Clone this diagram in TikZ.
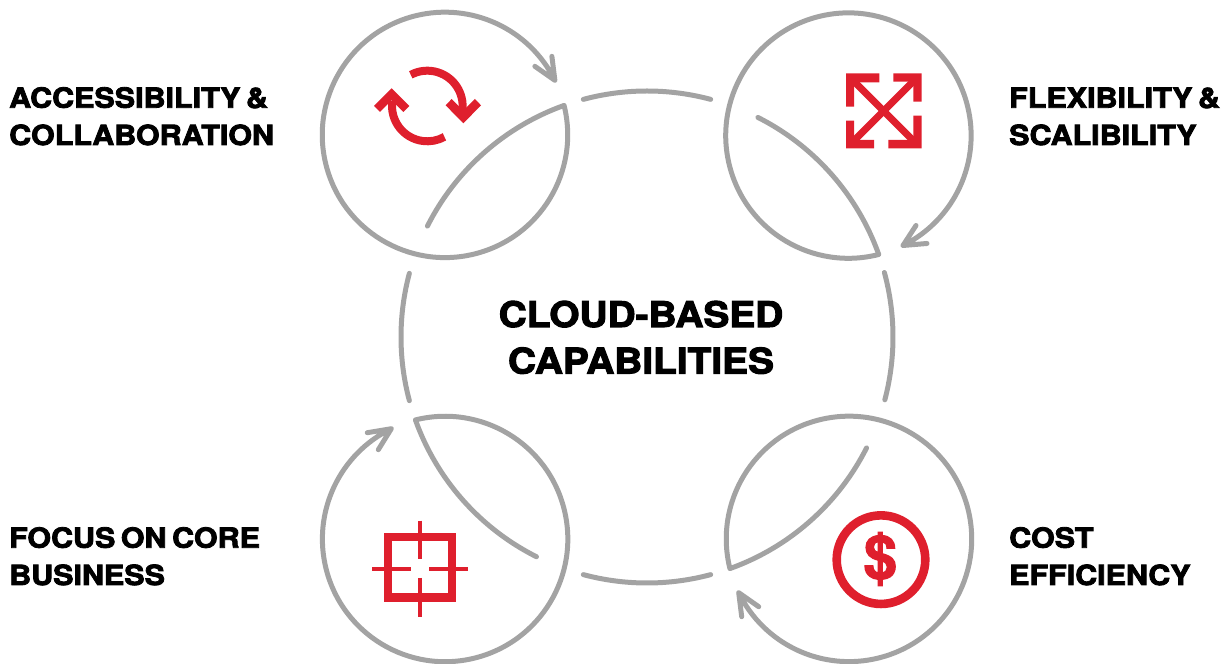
\documentclass[tikz,border=0pt]{standalone}
\usepackage{fontspec}
\setmainfont{TeX Gyre Heros}[UprightFont=*-Bold,FakeBold=3,FakeStretch=1.1,WordSpace=0.65]
\newfontfamily\dollarfont{TeX Gyre Heros}[UprightFont=*-Bold,FakeBold=2]
\definecolor{ringgray}{HTML}{A3A3A3}
\definecolor{iconred}{HTML}{DF1F2D}
\tikzset{
  ring/.style={draw=ringgray,line width=5pt,line cap=round,line join=round},
  labeltext/.style={inner sep=0pt,anchor=base west,align=left,font=\fontsize{27.7}{37}\selectfont},
  titletext/.style={inner sep=0pt,anchor=base,align=center,font=\fontsize{35.3}{46}\selectfont},
  zoomed/.style={x=0.33333pt,y=-0.33333pt},
}
\begin{document}
\begin{tikzpicture}[x=1pt,y=1pt]
\useasboundingbox (0,0) rectangle (1232,664);
\coordinate (big) at (647,327);
% big circle pieces
\draw[ring] (big) ++(105:246pt) arc[start angle=105,end angle=75,radius=246pt];
\draw[ring] (big) ++(15.2:246pt) arc[start angle=15.2,end angle=-14.8,radius=246pt];
\draw[ring] (big) ++(-75:246pt) arc[start angle=-75,end angle=-105,radius=246pt];
\draw[ring] (big) ++(-165:246pt) arc[start angle=-165,end angle=-195,radius=246pt];
% TL ring
\draw[ring] (big) ++(153.2:246pt) arc[start angle=153.2,end angle=109.7,radius=246pt]
  arc[start angle=13.9,end angle=-333.6,radius=122.7pt]
  ++(-20,14) -- ++(20,-14) -- ++(-3,24);
% TR ring
\draw[ring] (big) ++(63.2:246pt) arc[start angle=63.2,end angle=19.6,radius=246pt]
  arc[start angle=-75.7,end angle=-423.6,radius=122.7pt]
  ++(13,20) -- ++(-13,-20) -- ++(24,2);
% BR ring
\draw[ring] (big) ++(-26.8:246pt) arc[start angle=-26.8,end angle=-70.3,radius=246pt]
  arc[start angle=194,end angle=-154,radius=122.7pt]
  ++(20,-14) -- ++(-20,14) -- ++(3,-24);
% BL ring
\draw[ring] (big) ++(-116.7:246pt) arc[start angle=-116.7,end angle=-160.3,radius=246pt]
  arc[start angle=104,end angle=-244,radius=122.7pt]
  ++(-13,-21) -- ++(13,21) -- ++(-24,-4);
% refresh icon
\begin{scope}[shift={(310pt,664pt)},zoomed]
\draw[iconred,line width=8pt] (352,318) ++(118:35.3pt) arc[start angle=118,end angle=-12,radius=35.3pt];
\draw[iconred,line width=8pt] (352,318) ++(172:35.3pt) arc[start angle=172,end angle=299,radius=35.3pt];
\fill[iconred] (407,316) -- (425,297) -- (460,332) -- (495,297) -- (513,316) -- (460,370) -- cycle;
\fill[iconred] (192,318) -- (245,265) -- (298,318) -- (280,336) -- (245,301) -- (210,336) -- cycle;
\end{scope}
% expand icon
\begin{scope}[shift={(700pt,664pt)},zoomed]
\fill[iconred] (438,220) -- (538,220) -- (538,247) -- (462,247) -- (462,320) -- (438,320) -- cycle;
\fill[iconred] (665,220) -- (580,220) -- (580,245) -- (640,245) -- (640,305) -- (665,305) -- cycle;
\fill[iconred] (438,445) -- (438,362) -- (462,362) -- (462,420) -- (522,420) -- (522,445) -- cycle;
\fill[iconred] (665,445) -- (565,445) -- (565,420) -- (640,420) -- (640,347) -- (665,347) -- cycle;
\draw[iconred,line width=7pt] (450,232) -- (652,434);
\draw[iconred,line width=7pt] (652,232) -- (450,434);
\end{scope}
% target icon
\begin{scope}[shift={(310pt,664pt-400pt)},zoomed]
\draw[iconred,line width=8.3pt] (234.5,410.5) rectangle (425.5,592.5);
\draw[iconred,line width=4pt] (330,362) -- (330,478) (330,534) -- (330,650) (186,506) -- (302,506) (358,506) -- (474,506);
\end{scope}
% dollar icon
\begin{scope}[shift={(700pt,664pt-400pt)},zoomed]
\draw[iconred,line width=8.6pt] (543,479) circle[radius=44.3pt];
\node[inner sep=0pt,text=iconred] (dollar) at (541,477) {\fontsize{60}{60}\dollarfont \$};
\end{scope}
% labels (baseline y = 664 - px)
\node[titletext] (title1) at (641,664-327) {CLOUD-BASED};
\node[titletext] (title2) at (641,664-373.5) {CAPABILITIES};
\node[labeltext] (l1a) at (9,664-107.7) {ACCESSIBILITY \&};
\node[labeltext] (l1b) at (9,664-145) {COLLABORATION};
\node[labeltext] (l2a) at (1009,664-107.7) {FLEXIBILITY \&};
\node[labeltext] (l2b) at (1009,664-145) {SCALIBILITY};
\node[labeltext] (l3a) at (9,664-547.7) {FOCUS ON CORE};
\node[labeltext] (l3b) at (9,664-585) {BUSINESS};
\node[labeltext] (l4a) at (1009,664-547.7) {COST};
\node[labeltext] (l4b) at (1009,664-585) {EFFICIENCY};
\end{tikzpicture}
\end{document}
